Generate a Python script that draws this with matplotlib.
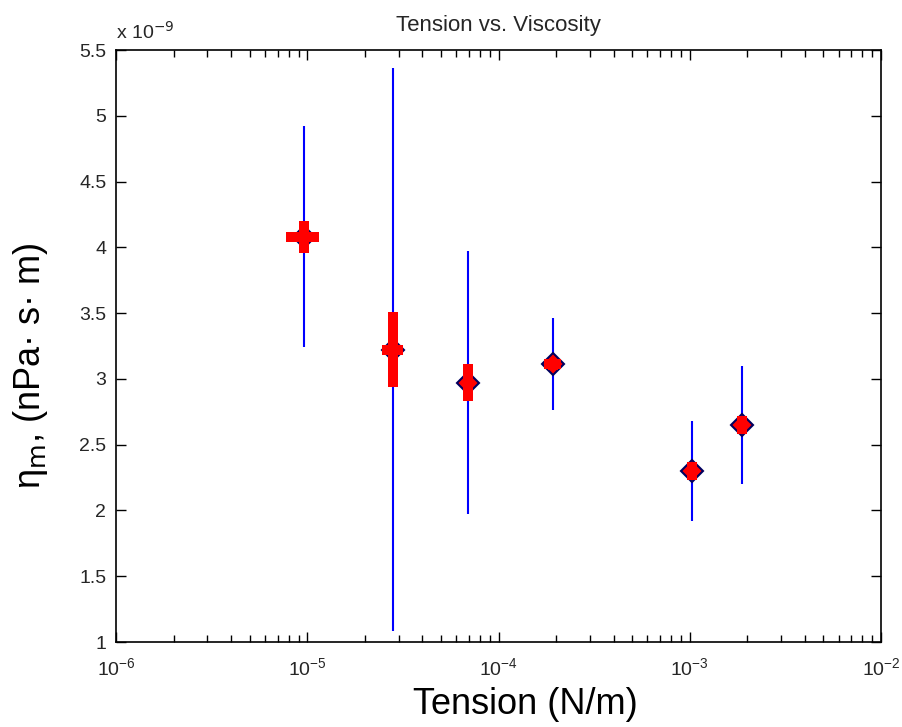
import matplotlib
matplotlib.use('Agg')
import matplotlib.pyplot as plt
import numpy as np

plt.rcParams['font.family'] = ['Liberation Sans', 'DejaVu Sans']

# tension (N/m) and viscosity (x 1e-9)
tension = [9.6e-6, 2.8e-5, 6.9e-5, 1.93e-4, 1.03e-3, 1.87e-3]
visc = [4.08, 3.22, 2.97, 3.11, 2.30, 2.65]
visc_sd = [0.84, 2.14, 1.00, 0.35, 0.38, 0.45]    # blue bars
visc_se = [0.12, 0.285, 0.14, 0.045, 0.065, 0.07]  # red bars
tension_err = [1.9e-6, 3.5e-6, 0.0, 2.0e-5, 0.0, 0.0]

fig = plt.figure(figsize=(9.03, 7.27), dpi=100)
ax = fig.add_axes([0.1285, 0.1169, 0.8471, 0.8143])

ax.errorbar(tension, visc, yerr=visc_sd, fmt='none', ecolor='#0000ff',
            elinewidth=1.5, capsize=0, zorder=2)
ax.plot(tension, visc, 'D', ms=11, mfc='#ff0000', mec='#000060', mew=1.5,
        zorder=3)
ax.errorbar(tension, visc, yerr=visc_se, xerr=tension_err, fmt='none',
            ecolor='#ff0000', elinewidth=7.2, capsize=0, zorder=4)

ax.set_xscale('log')
ax.set_xlim(1e-6, 1e-2)
ax.set_ylim(1, 5.5)
ax.set_yticks(np.arange(1, 5.51, 0.5))
ax.set_yticklabels(['1', '1.5', '2', '2.5', '3', '3.5', '4', '4.5', '5', '5.5'])

ax.tick_params(which='both', direction='in', top=True, right=True,
               labelsize=14, width=1, colors='black', labelcolor='#262626')
ax.tick_params(which='major', length=7)
ax.tick_params(which='minor', length=5)
ax.tick_params(axis='y', pad=7)
ax.tick_params(axis='x', pad=11)
for s in ax.spines.values():
    s.set_linewidth(1.2)

ax.text(0.0, 1.012, 'x 10$^{-9}$', transform=ax.transAxes, fontsize=14,
        ha='left', va='bottom', color='#262626')
ax.set_title('Tension vs. Viscosity', fontsize=16, pad=14, color='#262626')
ax.set_xlabel('Tension (N/m)', fontsize=26, va='center')
ax.xaxis.set_label_coords(0.535, -0.106)
ax.set_ylabel('η$_\\mathrm{m}$, (nPa· s· m)', fontsize=26, va='center')
ax.yaxis.set_label_coords(-0.112, 0.466)

fig.savefig('out.png', dpi=100)
